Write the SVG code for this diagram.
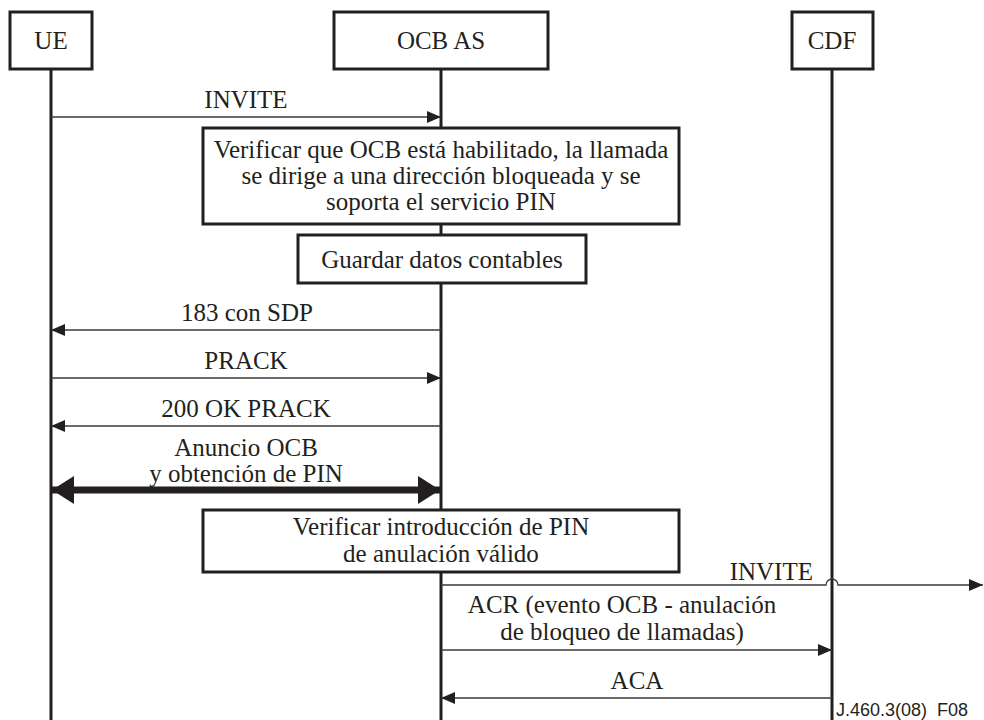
<svg xmlns="http://www.w3.org/2000/svg" width="984" height="720" viewBox="0 0 984 720">
  <style>
    .box { fill: #ffffff; stroke: #231f20; stroke-width: 3; }
    .life { stroke: #231f20; stroke-width: 3; fill: none; }
    .msg { stroke: #3a3a3a; stroke-width: 1.3; fill: none; }
    .thick { stroke: #231f20; stroke-width: 7; fill: none; }
    .t { font-size: 25px; fill: #231f20; text-anchor: middle; }
    .ref { font-size: 18px; fill: #231f20; }
  </style>
  <defs>
    <marker id="ah" viewBox="0 0 14 12" refX="14" refY="6" markerWidth="14" markerHeight="12" markerUnits="userSpaceOnUse" orient="auto">
      <path d="M0,0 L14,6 L0,12 Z" fill="#231f20"/>
    </marker>
    <marker id="ahBig" viewBox="0 0 22 28" refX="22" refY="14" markerWidth="22" markerHeight="28" markerUnits="userSpaceOnUse" orient="auto-start-reverse">
      <path d="M0,0 L22,14 L0,28 Z" fill="#231f20"/>
    </marker>
  </defs>

  <!-- lifelines -->
  <g id="lifelines">
    <line class="life" x1="51" y1="69" x2="51" y2="720"/>
    <line class="life" x1="441" y1="69" x2="441" y2="720"/>
    <line class="life" x1="832" y1="69" x2="832" y2="720"/>
  </g>

  <!-- participants -->
  <g id="ue">
    <rect class="box" x="10" y="12" width="82" height="57"/>
    <text class="t" font-family="Liberation Serif" x="51" y="49">UE</text>
  </g>
  <g id="ocb-as">
    <rect class="box" x="334" y="12" width="214" height="57"/>
    <text class="t" font-family="Liberation Serif" x="441" y="49">OCB AS</text>
  </g>
  <g id="cdf">
    <rect class="box" x="792" y="12" width="81" height="57"/>
    <text class="t" font-family="Liberation Serif" x="832" y="49">CDF</text>
  </g>

  <!-- actions on OCB AS -->
  <g id="verificar-ocb">
    <rect class="box" x="203" y="128" width="476" height="96"/>
    <text class="t" font-family="Liberation Serif" x="441" y="158">Verificar que OCB está habilitado, la llamada</text>
    <text class="t" font-family="Liberation Serif" x="441" y="184">se dirige a una dirección bloqueada y se</text>
    <text class="t" font-family="Liberation Serif" x="441" y="210">soporta el servicio PIN</text>
  </g>
  <g id="guardar-datos">
    <rect class="box" x="298" y="235" width="288" height="48"/>
    <text class="t" font-family="Liberation Serif" x="442" y="268">Guardar datos contables</text>
  </g>
  <g id="verificar-pin">
    <rect class="box" x="203" y="510" width="476" height="62"/>
    <text class="t" font-family="Liberation Serif" x="441" y="535">Verificar introducción de PIN</text>
    <text class="t" font-family="Liberation Serif" x="441" y="562">de anulación válido</text>
  </g>

  <!-- messages -->
  <g id="connectors">
    <line class="msg" x1="51" y1="117" x2="441" y2="117" marker-end="url(#ah)"/>
    <line class="msg" x1="441" y1="330" x2="51" y2="330" marker-end="url(#ah)"/>
    <line class="msg" x1="51" y1="378" x2="441" y2="378" marker-end="url(#ah)"/>
    <line class="msg" x1="441" y1="426" x2="51" y2="426" marker-end="url(#ah)"/>
    <line class="thick" x1="52" y1="490" x2="440" y2="490" marker-start="url(#ahBig)" marker-end="url(#ahBig)"/>
    <path class="msg" d="M441,585 H826 A5,5 0 0 1 838,585 H983" marker-end="url(#ah)"/>
    <line class="msg" x1="441" y1="650" x2="832" y2="650" marker-end="url(#ah)"/>
    <line class="msg" x1="832" y1="698" x2="441" y2="698" marker-end="url(#ah)"/>
  </g>

  <!-- message labels -->
  <g id="labels">
    <text class="t" font-family="Liberation Serif" x="246" y="108">INVITE</text>
    <text class="t" font-family="Liberation Serif" x="247" y="321">183 con SDP</text>
    <text class="t" font-family="Liberation Serif" x="246" y="369">PRACK</text>
    <text class="t" font-family="Liberation Serif" x="246" y="417">200 OK PRACK</text>
    <text class="t" font-family="Liberation Serif" x="246" y="456">Anuncio OCB</text>
    <text class="t" font-family="Liberation Serif" x="246" y="482">y obtención de PIN</text>
    <text class="t" font-family="Liberation Serif" x="813" y="580" text-anchor="end" style="text-anchor:end">INVITE</text>
    <text class="t" font-family="Liberation Serif" x="622" y="613">ACR (evento OCB - anulación</text>
    <text class="t" font-family="Liberation Serif" x="622" y="640">de bloqueo de llamadas)</text>
    <text class="t" font-family="Liberation Serif" x="637" y="689">ACA</text>
    <text class="ref" font-family="Liberation Sans" x="836" y="716" xml:space="preserve">J.460.3(08)  F08</text>
  </g>
</svg>
